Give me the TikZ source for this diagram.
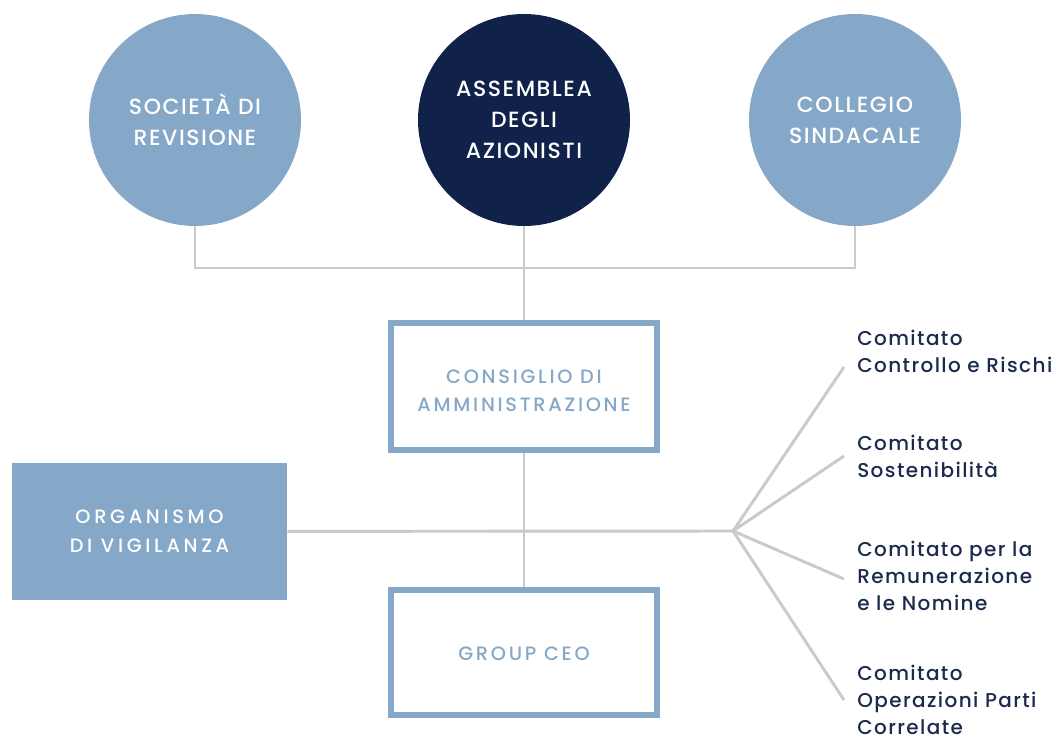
\documentclass[tikz,border=0pt]{standalone}
\usepackage{fontspec}
\setmainfont{Poppins}[UprightFont=* Medium]
\newfontfamily\circfont{Poppins}[UprightFont=* Medium, LetterSpace=7]
\newfontfamily\boxfont{Poppins}[UprightFont=* Medium, LetterSpace=14]
\newfontfamily\odvfont{Poppins}[UprightFont=* Medium, LetterSpace=19]
\newfontfamily\labfont{Poppins}[UprightFont=* Medium, LetterSpace=7]
\definecolor{lblue}{HTML}{86A8C8}
\definecolor{navy}{HTML}{10224A}
\definecolor{ink}{HTML}{1B2A4E}
\definecolor{conn}{HTML}{CACACA}
\tikzset{
  circ/.style={circle, minimum size=159pt, inner sep=0pt, text=white, align=center,
    font=\circfont\fontsize{16.5}{23.5}\selectfont},
  framebox/.style={rectangle, draw=lblue, line width=4.5pt, fill=white, inner sep=0pt,
    minimum width=199.5pt},
  boxtext/.style={text=lblue, align=center, inner sep=0pt,
    font=\boxfont\fontsize{14.5}{21}\selectfont},
  solidbox/.style={rectangle, fill=lblue, inner sep=0pt, minimum width=206.25pt,
    minimum height=102.75pt, text=white, align=center, font=\odvfont\fontsize{14.5}{21.75}\selectfont},
  lab/.style={anchor=west, inner sep=0pt, align=left, text=ink,
    font=\labfont\fontsize{15}{20.25}\selectfont},
  link/.style={draw=conn, line width=2.2pt}
}
\begin{document}
\begin{tikzpicture}[x=0.75pt,y=-0.75pt]
\useasboundingbox (0,0) rectangle (1059,738);
% circles
\node[circ, fill=lblue] (soc) at (195,120) {SOCIETÀ DI\\REVISIONE};
\node[circ, fill=navy] (ass) at (524,120) {ASSEMBLEA\\DEGLI\\AZIONISTI};
\node[circ, fill=lblue] (col) at (855,120) {COLLEGIO\\SINDACALE};
% boxes
\node[framebox, minimum height=95.25pt,
  label={[boxtext, yshift=-3.5pt]center:{CONSIGLIO DI\\AMMINISTRAZIONE}}] (cda) at (524,386.5) {};
\node[framebox, minimum height=93.75pt,
  label={[boxtext, yshift=-1pt]center:{GROUP CEO}}] (ceo) at (524,652.5) {};
\node[solidbox] (odv) at (149.5,531.5) {ORGANISMO\\DI VIGILANZA};
% committee labels
\node[lab] (c1) at (857,351) {Comitato\\Controllo e Rischi};
\node[lab] (c2) at (857,456) {Comitato\\Sostenibilità};
\node[lab] (c3) at (857,576) {Comitato per la\\Remunerazione\\e le Nomine};
\node[lab] (c4) at (857,700) {Comitato\\Operazioni Parti\\Correlate};
% junctions
\coordinate (jl) at (195,268);
\coordinate (jr) at (855,268);
\coordinate (fan) at (733,531);
\coordinate (e1) at (844,367);
\coordinate (e2) at (844,456);
\coordinate (e3) at (844,579);
\coordinate (e4) at (844,700);
% connectors
\path[link] (soc) -- (jl) -- (jr) -- (col);
\path[link] (ass) -- (cda);
\path[link] (cda) -- (ceo);
\path[link] (odv) -- (fan);
\path[link] (fan) -- (e1);
\path[link] (fan) -- (e2);
\path[link] (fan) -- (e3);
\path[link] (fan) -- (e4);
\end{tikzpicture}
\end{document}
